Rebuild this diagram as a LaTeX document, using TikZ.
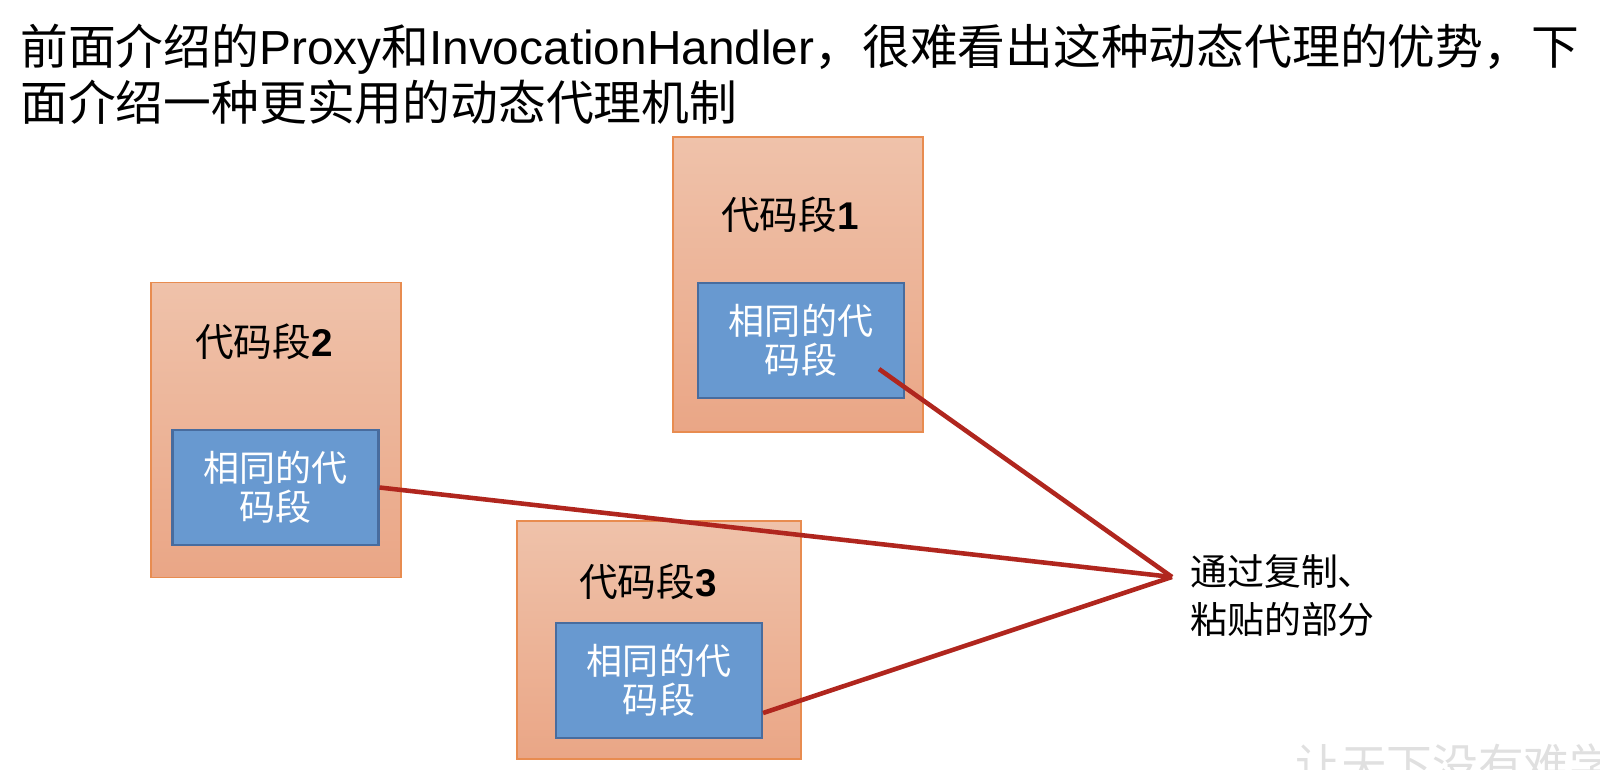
\documentclass[tikz,border=0pt]{standalone}
\usepackage{fontspec}
\setmainfont{Liberation Sans}
\newfontfamily\cjk{Noto Sans CJK SC}
\usetikzlibrary{positioning}
\definecolor{segtop}{RGB}{239,194,170}
\definecolor{segbot}{RGB}{234,166,134}
\definecolor{segline}{RGB}{232,140,80}
\definecolor{samefill}{RGB}{104,153,208}
\definecolor{sameline}{RGB}{72,108,158}
\definecolor{linkred}{RGB}{176,38,30}
\begin{document}
\begin{tikzpicture}[x=0.02cm, y=-0.02cm,
    segbox/.style={draw=segline, line width=0.8pt, top color=segtop, bottom color=segbot, minimum width=5cm, minimum height=5.9cm, inner sep=0pt},
    samebox/.style={draw=sameline, line width=1.2pt, fill=samefill, minimum width=4.12cm, minimum height=2.3cm, align=center, text=white, font=\cjk\fontsize{20.5}{22}\selectfont, inner sep=0pt},
    seglabel/.style={font=\fontsize{22}{24}\selectfont, inner sep=0pt},
    link/.style={linkred, line width=2.6pt}
]
\useasboundingbox (0,0) rectangle (1600,770);

% Title
\node[anchor=west, align=left, inner sep=0pt, font=\fontsize{27.2}{31.9}\selectfont] (title) at (20,74)
  {{\cjk 前面介绍的}Proxy{\cjk 和}InvocationHandler{\cjk ，很难看出这种动态代理的优势，下}\\{\cjk 面介绍一种更实用的动态代理机制}};

% Code segments
\node[segbox] (seg1) at (798,284.5) {};
\node[seglabel] (lab1) at (790,215) {{\cjk 代码段}\textbf{1}};
\node[samebox] (same1) at (801,340.5) {相同的代\\码段};

\node[segbox] (seg2) at (276,430) {};
\node[seglabel] (lab2) at (264,342) {{\cjk 代码段}\textbf{2}};
\node[samebox] (same2) at (275.5,487.5) {相同的代\\码段};

\node[segbox, minimum width=5.68cm, minimum height=4.76cm] (seg3) at (659,640) {};
\node[seglabel] (lab3) at (648,582) {{\cjk 代码段}\textbf{3}};
\node[samebox] (same3) at (659,680.5) {相同的代\\码段};

% Note
\coordinate (meet) at (1172,577);
\node[anchor=west, align=left, inner sep=0pt, font=\cjk\fontsize{21}{27.3}\selectfont] (note) at (1190,596) {通过复制、\\粘贴的部分};

% Links
\draw[link] ([shift={(-26,-30)}]same1.south east) -- (meet);
\draw[link] (same2.east) -- (meet);
\draw[link] ([yshift=-0.65cm]same3.east) -- (meet);

% Watermark
\node[anchor=west, inner sep=0pt, text=black!12, font=\cjk\fontsize{26}{30}\selectfont] (mark) at (1295,765) {让天下没有难学的技术};
\end{tikzpicture}
\end{document}
